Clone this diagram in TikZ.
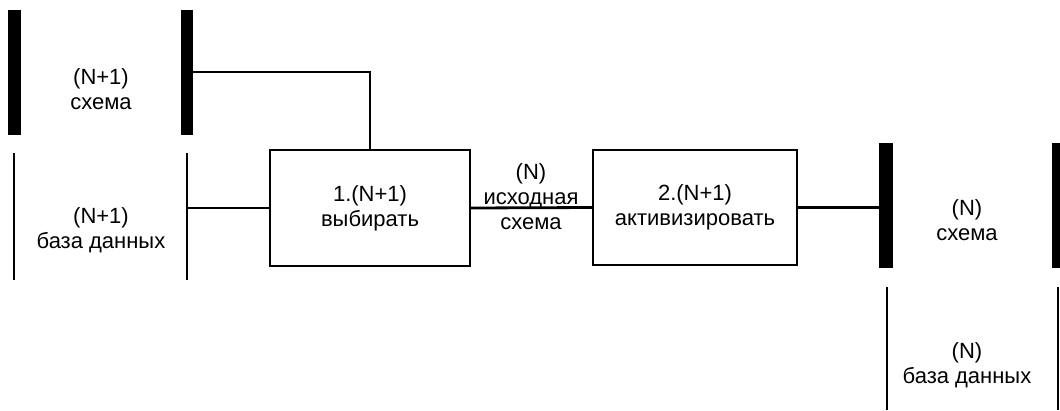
\documentclass[tikz,border=0pt]{standalone}
\usepackage{fontspec}
\setmainfont{Liberation Sans}
\begin{document}
\begin{tikzpicture}[x=1pt,y=-1pt, line width=2.8pt,
  thickbar/.style={fill=black, draw=none, minimum width=13pt, minimum height=125pt, inner sep=0pt, outer sep=0pt},
  thinbar/.style={fill=black, draw=none, minimum width=2.8pt, minimum height=127pt, inner sep=0pt, outer sep=0pt},
  procbox/.style={draw, minimum width=200pt, minimum height=116pt, inner sep=0pt, outer sep=0pt, align=center, font=\fontsize{22}{25}\selectfont},
  lbl/.style={align=center, inner sep=0pt, font=\fontsize{22}{25}\selectfont}]
\useasboundingbox (0,0) rectangle (1060,410);
% left bars
\node[thickbar] (a1) at (14.5,72.5) {};
\node[thickbar, minimum width=12pt] (a2) at (187,72.5) {};
\node[thinbar] (c1) at (14,216.5) {};
\node[thinbar] (c2) at (187,216.5) {};
% right bars
\node[thickbar, minimum width=14pt] (b1) at (886,205.5) {};
\node[thickbar, minimum width=8pt] (b2) at (1056,205.5) {};
\node[thinbar, minimum height=123pt] (d1) at (887,348.5) {};
\node[thinbar, minimum height=123pt] (d2) at (1058,348.5) {};
% labels
\node[lbl] (t1) at (101,89) {(N+1)\\схема};
\node[lbl] (t2) at (101,230) {(N+1)\\база данных};
\node[lbl] (t3) at (967,220) {(N)\\схема};
\node[lbl] (t4) at (967,365) {(N)\\база данных};
% boxes
\node[procbox] (p1) at (370,208) {1.(N+1)\\выбирать};
\node[procbox, minimum width=204pt, minimum height=115pt] (p2) at (695,207.5) {2.(N+1)\\активизировать};
\node[lbl] (t5) at (531,197) {(N)\\исходная\\схема};
% connectors
\draw (a2.east |- 0,72) -| (p1.north);
\draw (c2.center |- p1.west) -- (p1.west);
\draw (p1.east) -- (p2.west);
\draw (p2.east) -- (b1.west |- p2.east);
\end{tikzpicture}
\end{document}
